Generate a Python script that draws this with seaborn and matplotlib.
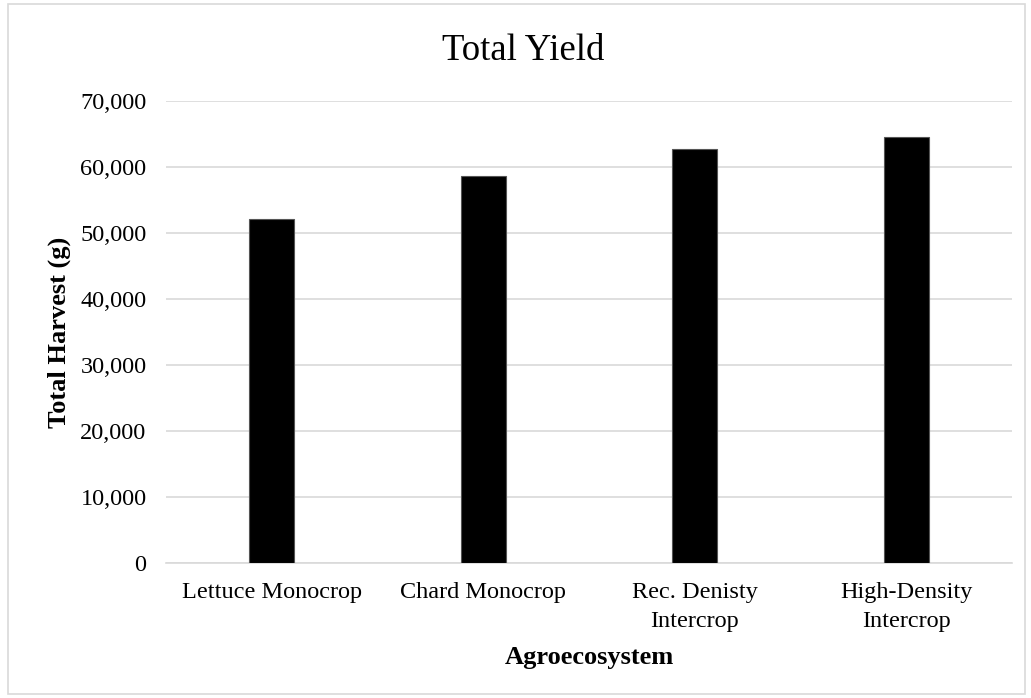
import matplotlib
matplotlib.use("Agg")
import matplotlib.pyplot as plt
import seaborn as sns
import pandas as pd
from matplotlib.patches import Rectangle
from matplotlib.ticker import FuncFormatter

systems = ["Lettuce Monocrop", "Chard Monocrop", "Rec. Denisty\nIntercrop", "High-Density\nIntercrop"]
harvest = [52200, 58700, 62800, 64600]

df = pd.DataFrame({"system": systems, "harvest": harvest})

sns.set_theme(style="white")
plt.rcParams["font.family"] = ["Liberation Serif", "DejaVu Serif"]
plt.rcParams["text.color"] = "black"
plt.rcParams["axes.labelcolor"] = "black"

fig = plt.figure(figsize=(10.31, 6.98), dpi=100)
ax = fig.add_axes([0.161, 0.1934, 0.8205, 0.6616])

sns.barplot(data=df, x="system", y="harvest", color="black", width=0.213,
            edgecolor="#555555", linewidth=0.8, saturation=1, ax=ax, zorder=3)

ax.set_ylim(0, 70000)
ax.set_xlim(-0.5, 3.5)
ax.set_yticks(range(0, 70001, 10000))
ax.yaxis.set_major_formatter(FuncFormatter(lambda v, p: f"{int(v):,}"))
ax.grid(axis="y", color="#d9d9d9", linewidth=1.2, zorder=0)
ax.set_axisbelow(True)
for s in ["top", "right", "left"]:
    ax.spines[s].set_visible(False)
ax.spines["bottom"].set_color("#d9d9d9")
ax.spines["bottom"].set_linewidth(1.2)

ax.tick_params(axis="y", labelsize=17.5, length=0, pad=14, colors="black")
ax.tick_params(axis="x", labelsize=17.5, length=0, pad=14, colors="black")
for t in ax.get_xticklabels():
    t.set_linespacing(1.45)

ax.set_xlabel("Agroecosystem", fontsize=19, fontweight="bold")
ax.set_ylabel("Total Harvest (g)", fontsize=19, fontweight="bold")
ax.xaxis.set_label_coords(0.5, -0.205)
ax.yaxis.set_label_coords(-0.126, 0.5)
for lab in (ax.xaxis.label, ax.yaxis.label):
    lab.set_va("center")
fig.text(0.507, 0.914, "Total Yield", ha="center", va="baseline", fontsize=26.5, color="black")

fig.patches.append(Rectangle((0.008, 0.006), 0.986, 0.988, transform=fig.transFigure,
                             fill=False, edgecolor="#d9d9d9", linewidth=1.2))

fig.savefig("out.png", dpi=100)
